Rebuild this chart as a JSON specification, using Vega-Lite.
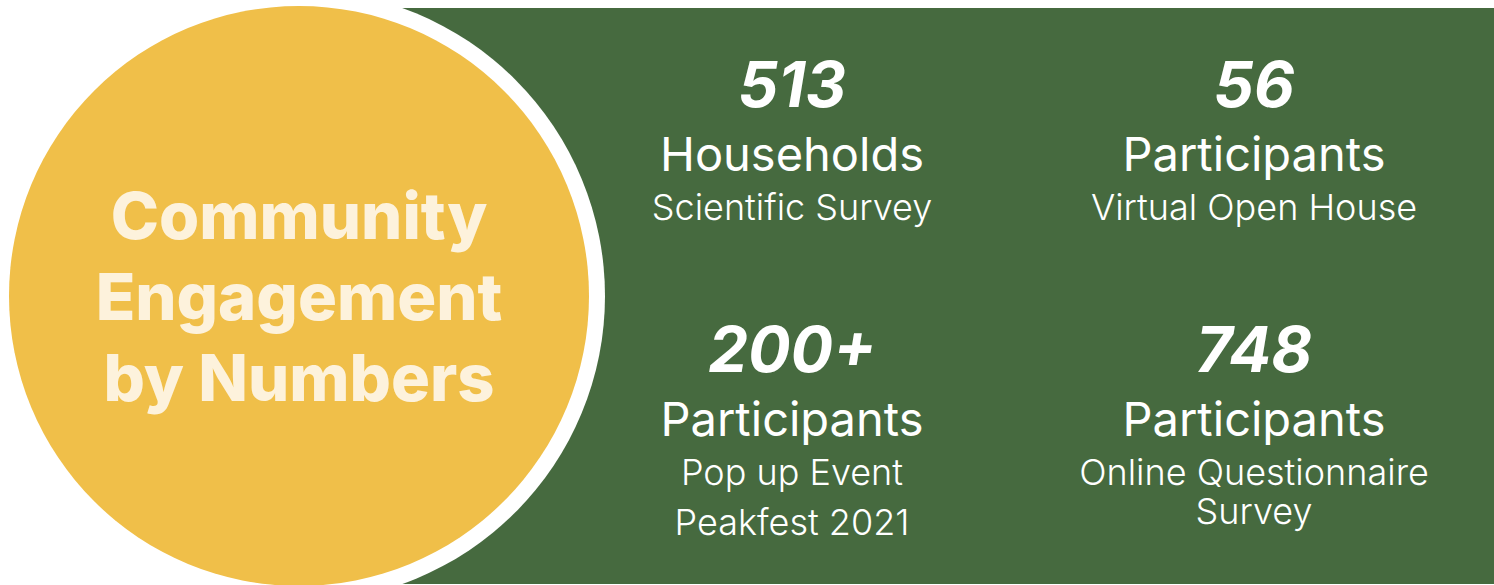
{
  "$schema": "https://vega.github.io/schema/vega-lite/v6.json",
  "width": 1194,
  "height": 576,
  "autosize": {"type": "none"},
  "padding": {"left": 300, "top": 8, "right": 0, "bottom": 1},
  "background": "#ffffff",
  "view": {"fill": "#466A3F", "stroke": null},
  "datasets": {
    "title": [{"col": 0, "text": "Community\nEngagement\nby Numbers"}],
    "stats": [
      {"col": 1, "row": 1, "value": "513", "unit": "Households", "source": "Scientific Survey"},
      {"col": 2, "row": 1, "value": "56", "unit": "Participants", "source": "Virtual Open House"},
      {"col": 1, "row": 2, "value": "200+", "unit": "Participants", "source": "Pop up Event\nPeakfest 2021"},
      {"col": 2, "row": 2, "value": "748", "unit": "Participants", "source": "Online Questionnaire\nSurvey"}
    ]
  },
  "encoding": {
    "x": {"field": "col", "type": "quantitative", "axis": null,
      "scale": {"domain": [0, 1, 2], "range": [-1, 492, 954], "zero": false, "nice": false}}
  },
  "layer": [
    {
      "data": {"name": "title"},
      "mark": {"type": "point", "filled": true, "opacity": 1, "color": "#ffffff", "size": 374544, "strokeWidth": 0}
    },
    {
      "data": {"name": "title"},
      "mark": {"type": "point", "filled": true, "opacity": 1, "color": "#F0BF49", "size": 336400, "strokeWidth": 0}
    },
    {
      "data": {"name": "title"},
      "mark": {"type": "text", "font": "Inter", "fontWeight": 800, "fontSize": 65, "color": "#FDF2DC",
        "lineBreak": "\n", "lineHeight": 81, "baseline": "middle", "align": "center", "dy": -77},
      "encoding": {"text": {"field": "text"}}
    },
    {
      "data": {"name": "stats"},
      "mark": {"type": "text", "font": "Inter", "fontWeight": 700, "fontStyle": "italic", "fontSize": 63, "color": "#ffffff",
        "baseline": "middle", "align": "center"},
      "encoding": {
        "y": {"field": "row", "type": "quantitative", "axis": null, "scale": {"domain": [1, 2], "range": [80, 345], "zero": false, "nice": false}},
        "text": {"field": "value"}
      }
    },
    {
      "data": {"name": "stats"},
      "mark": {"type": "text", "font": "Inter", "fontWeight": 400, "fontSize": 47, "color": "#ffffff",
        "baseline": "middle", "align": "center", "dy": 69},
      "encoding": {
        "y": {"field": "row", "type": "quantitative", "axis": null},
        "text": {"field": "unit"}
      }
    },
    {
      "data": {"name": "stats"},
      "transform": [{"filter": "datum.col == 1"}],
      "mark": {"type": "text", "font": "Inter", "fontWeight": 300, "fontSize": 36, "color": "#ffffff",
        "baseline": "middle", "align": "center", "dy": 121, "lineBreak": "\n", "lineHeight": 50},
      "encoding": {
        "y": {"field": "row", "type": "quantitative", "axis": null},
        "text": {"field": "source"}
      }
    },
    {
      "data": {"name": "stats"},
      "transform": [{"filter": "datum.col == 2"}],
      "mark": {"type": "text", "font": "Inter", "fontWeight": 300, "fontSize": 36, "color": "#ffffff",
        "baseline": "middle", "align": "center", "dy": 121, "lineBreak": "\n", "lineHeight": 39},
      "encoding": {
        "y": {"field": "row", "type": "quantitative", "axis": null},
        "text": {"field": "source"}
      }
    }
  ]
}
